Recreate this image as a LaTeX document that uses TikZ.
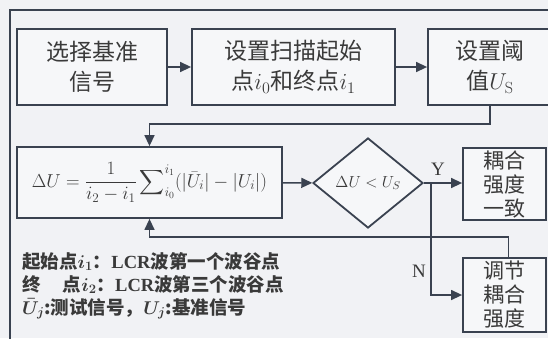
\RequirePackage{fix-cm}
\documentclass[tikz,border=0pt]{standalone}
\usepackage{amsmath}
\usepackage{fontspec}
\usetikzlibrary{arrows.meta,shapes.geometric}
\newfontfamily\cjk{Noto Sans CJK SC}
\newfontfamily\serifl{Liberation Serif}
\definecolor{bg}{HTML}{F1F2F5}
\definecolor{bf}{HTML}{F6F7F9}
\definecolor{ln}{HTML}{3A4250}
\definecolor{tx}{HTML}{3A3A3A}
\begin{document}
\begin{tikzpicture}[x=1pt,y=-1pt,
  box/.style={draw=ln,line width=1.8pt,fill=bf,inner sep=0pt,align=center,text=tx,
    font=\cjk\fontsize{23}{30}\selectfont},
  smallbox/.style={box,font=\cjk\fontsize{21}{24}\selectfont},
  arr/.style={draw=ln,line width=1.4pt,-{Triangle[length=11pt,width=10pt]}},
  lbl/.style={font=\serifl\fontsize{19}{19}\selectfont,text=tx,inner sep=0pt}]
\useasboundingbox (0,0) rectangle (548,338);
\clip (0,0) rectangle (548,338);
\fill[bg] (0,0) rectangle (548,338);
\draw[ln,line width=1.6pt] (10,350) -- (10,10) -- (560,10);

\node[box,minimum width=150pt,minimum height=76pt] (b1) at (92,67) {选择基准\\信号};
\node[box,minimum width=203pt,minimum height=76pt] (b2) at (293.5,67) {设置扫描起始\\点$i_0$和终点$i_1$};
\node[box,minimum width=124pt,minimum height=76pt] (b3) at (490,67) {设置阈\\值$U_{\mathrm{S}}$};
\node[box,minimum width=265pt,minimum height=71pt,font=\fontsize{18.8}{21}\selectfont] (b4) at (149.5,182.5)
  {$\displaystyle \Delta U=\frac{1}{i_2-i_1}\sum\nolimits_{i_0}^{i_1}(|\bar U_i|-|U_i|)$};
\node[draw=ln,line width=1.8pt,fill=bf,diamond,inner sep=0pt,minimum width=110pt,minimum height=90pt,
  font=\fontsize{16}{18}\selectfont,text=tx] (d) at (368,183) {$\Delta U<U_S$};
\node[smallbox,minimum width=83pt,minimum height=72pt] (b5) at (504.5,184) {耦合\\强度\\一致};
\node[smallbox,minimum width=83pt,minimum height=74pt] (b6) at (504.5,295) {调节\\耦合\\强度};

\draw[arr] (b1) -- (b2);
\draw[arr] (b2) -- (b3);
\draw[arr] (b3.south) -- ++(0,18) -| (b4.north);
\draw[arr] (b4) -- (d);
\draw[arr] (d.east) -- (d.east -| b5.west);
\coordinate (sp) at (431,183);
\draw[arr] (sp) |- (b6.west);
\draw[arr] ([xshift=4pt]b6.north) -- ++(0,-20) -| (b4.south);

\node[lbl] (Y) at (438,169) {Y};
\node[lbl] (N) at (419,271) {N};

\node[anchor=north west,align=left,inner sep=0pt,text=tx,
  font=\cjk\bfseries\fontsize{18.5}{23}\selectfont] (notes) at (22,252)
  {起始点{\boldmath$i_1$}：{\serifl\bfseries LCR}波第一个波谷点\\
   终\hspace{1.2em}点{\boldmath$i_2$}：{\serifl\bfseries LCR}波第三个波谷点\\
   {\boldmath$\bar U_j$}:测试信号，{\boldmath$U_j$}:基准信号};
\end{tikzpicture}
\end{document}
